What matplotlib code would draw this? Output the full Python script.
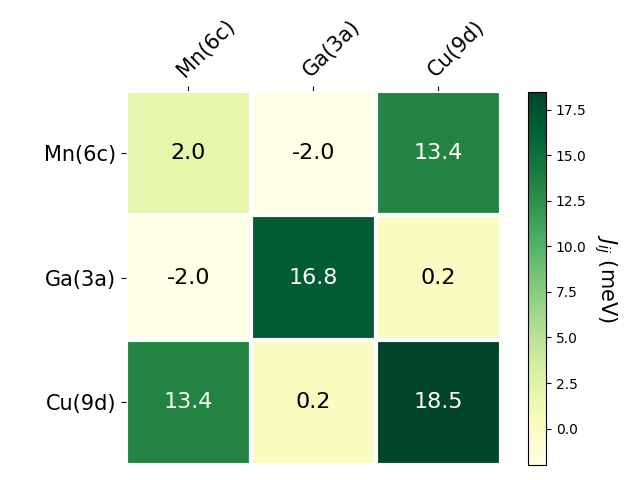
import numpy as np
import matplotlib.pyplot as plt

# ==========================================
# Data
# ==========================================

sites = ["Mn(6c)", "Ga(3a)", "Cu(9d)"]

row_mn = [2.0, -2.0, 13.4]
row_ga = [-2.0, 16.8, 0.2]
row_cu = [13.4, 0.2, 18.5]

data = np.array([row_mn, row_ga, row_cu])

# ==========================================
# Figure
# ==========================================

fig = plt.figure(figsize=(6.4, 4.8), dpi=100)
ax = fig.add_axes([125.6 / 640, 15.2 / 480, 375.2 / 640, 374.2 / 480])
cax = fig.add_axes([527.5 / 640, 15 / 480, 18.5 / 640, 373.5 / 480])

edges = np.arange(len(sites) + 1) - 0.5
im = ax.pcolormesh(edges, edges, data, cmap="YlGn")
ax.set_xlim(edges[0], edges[-1])
ax.set_ylim(edges[-1], edges[0])

cbar = fig.colorbar(im, cax=cax)
cbar.ax.set_ylabel("$J_{ij}$ (meV)", rotation=-90, va="bottom", fontsize=15)

ax.set_xticks(np.arange(len(sites)))
ax.set_yticks(np.arange(len(sites)))
ax.set_xticklabels(sites, fontsize=15)
ax.set_yticklabels(sites, fontsize=15)

ax.tick_params(top=True, bottom=False, labeltop=True, labelbottom=False)
plt.setp(ax.get_xticklabels(), rotation=45, ha="left", rotation_mode="anchor")

ax.set_frame_on(False)

ax.set_xticks(edges, minor=True)
ax.set_yticks(edges, minor=True)
ax.grid(which="minor", color="w", linestyle="-", linewidth=3)
ax.tick_params(which="minor", bottom=False, left=False, top=False, right=False)

threshold = im.norm(data.max()) / 2.0
for i in range(len(sites)):
    for j in range(len(sites)):
        color = "white" if im.norm(data[i, j]) > threshold else "black"
        ax.text(j, i, f"{data[i, j]:.1f}", ha="center", va="center",
                color=color, fontsize=16)

plt.savefig("out.png")
